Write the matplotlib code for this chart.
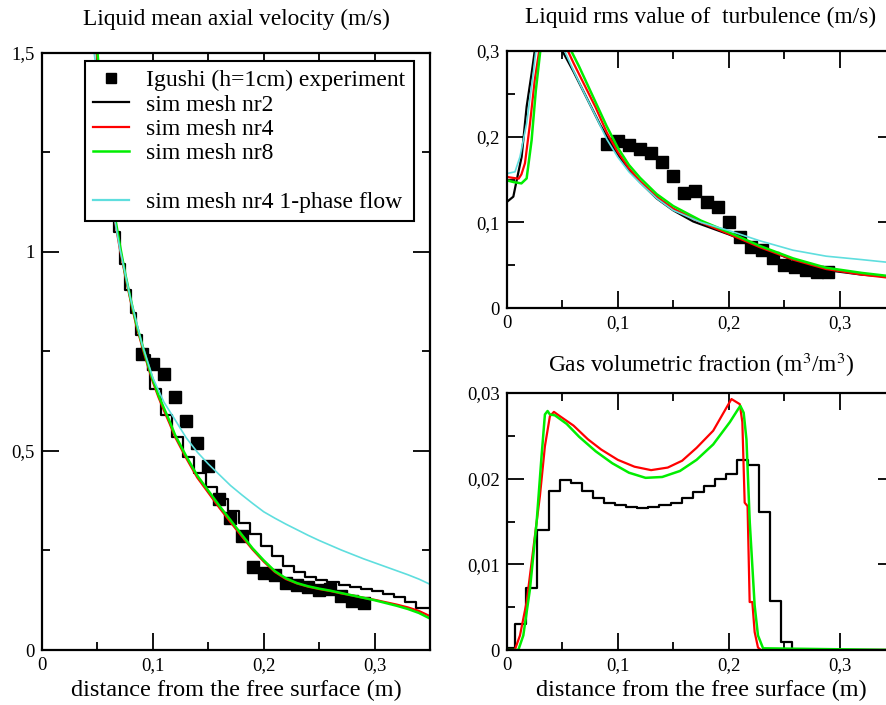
import matplotlib
matplotlib.use("Agg")
import matplotlib.pyplot as plt
from matplotlib.lines import Line2D
from matplotlib.ticker import MultipleLocator, FuncFormatter

plt.rcParams['font.family'] = ['Liberation Serif', 'DejaVu Serif']
plt.rcParams['mathtext.fontset'] = 'stix'

# experiment (Igushi, h=1cm)
exp_x = [0.09, 0.10, 0.11, 0.12, 0.13, 0.14, 0.15, 0.16, 0.17, 0.18, 0.19,
         0.20, 0.21, 0.22, 0.23, 0.24, 0.25, 0.26, 0.27, 0.28, 0.29]
vel_exp = [0.742, 0.717, 0.692, 0.636, 0.576, 0.519, 0.461, 0.379, 0.332, 0.286, 0.209,
           0.194, 0.188, 0.169, 0.163, 0.157, 0.150, 0.153, 0.136, 0.123, 0.119]
rms_exp = [0.192, 0.195, 0.190, 0.186, 0.181, 0.170, 0.154, 0.134, 0.137, 0.124, 0.118,
           0.100, 0.083, 0.071, 0.068, 0.058, 0.050, 0.048, 0.044, 0.042, 0.042]

# coarse mesh (nr2) cell centres
nr2_x = [0, 0.0025, 0.0125, 0.0225, 0.0325, 0.0425, 0.0525, 0.0625, 0.0725, 0.0825,
         0.0925, 0.1025, 0.1125, 0.1225, 0.1325, 0.1425, 0.1525, 0.1625, 0.1725,
         0.1825, 0.1925, 0.2025, 0.2125, 0.2225, 0.2325, 0.2425, 0.2525, 0.2625,
         0.2725, 0.2825, 0.2925, 0.3025, 0.3125, 0.3225, 0.3325, 0.3425, 0.35]

# mean axial velocity
vel_nr2_x = [0.0475, 0.0525, 0.0575, 0.0625, 0.0675, 0.0725, 0.0775, 0.0825,
             0.0875, 0.0925, 0.1025, 0.1125, 0.1225, 0.1325, 0.1425, 0.1525,
             0.1625, 0.1725, 0.1825, 0.1925, 0.2025, 0.2125, 0.2225, 0.2325,
             0.2425, 0.2525, 0.2625, 0.2725, 0.2825, 0.2925, 0.3025, 0.3125,
             0.3225, 0.3325, 0.3425, 0.35]
vel_nr2 = [1.6, 1.4, 1.26, 1.14, 1.05, 0.97, 0.905, 0.845, 0.79, 0.74, 0.655,
           0.59, 0.535, 0.485, 0.445, 0.41, 0.38, 0.35, 0.32, 0.29, 0.262, 0.236,
           0.212, 0.195, 0.184, 0.176, 0.17, 0.164, 0.158, 0.152, 0.147, 0.141,
           0.134, 0.12, 0.106, 0.106]
vel_x = [0.045, 0.05, 0.055, 0.06, 0.065, 0.07, 0.075, 0.08, 0.085, 0.09, 0.095,
         0.1, 0.105, 0.11, 0.115, 0.12, 0.13, 0.14, 0.15, 0.16, 0.17, 0.18, 0.19,
         0.2, 0.21, 0.22, 0.23, 0.24, 0.25, 0.26, 0.27, 0.28, 0.29, 0.3, 0.31,
         0.32, 0.33, 0.34, 0.35]
vel_nr4 = [1.62, 1.48, 1.32, 1.2, 1.09, 1.01, 0.94, 0.875, 0.815, 0.765, 0.717,
           0.673, 0.635, 0.601, 0.569, 0.535, 0.482, 0.433, 0.395, 0.357, 0.321,
           0.286, 0.252, 0.222, 0.196, 0.178, 0.167, 0.159, 0.153, 0.148, 0.142,
           0.137, 0.131, 0.126, 0.12, 0.114, 0.107, 0.098, 0.085]
vel_nr8 = [1.65, 1.5, 1.34, 1.21, 1.1, 1.02, 0.945, 0.88, 0.82, 0.77, 0.722,
           0.678, 0.64, 0.607, 0.575, 0.54, 0.487, 0.438, 0.40, 0.362, 0.326,
           0.29, 0.255, 0.225, 0.198, 0.18, 0.168, 0.16, 0.154, 0.149, 0.143,
           0.137, 0.131, 0.125, 0.118, 0.111, 0.103, 0.093, 0.079]
vel_1ph_x = [0.045, 0.047, 0.055, 0.06, 0.065, 0.07, 0.08, 0.09, 0.1, 0.11, 0.12,
             0.13, 0.14, 0.15, 0.16, 0.17, 0.18, 0.19, 0.2, 0.21, 0.22, 0.23, 0.24,
             0.25, 0.26, 0.27, 0.28, 0.29, 0.3, 0.31, 0.32, 0.33, 0.34, 0.35]
vel_1ph = [1.58, 1.5, 1.31, 1.19, 1.09, 1.01, 0.88, 0.77, 0.683, 0.622, 0.578,
           0.533, 0.497, 0.467, 0.44, 0.413, 0.39, 0.368, 0.347, 0.331, 0.316,
           0.302, 0.288, 0.275, 0.263, 0.251, 0.24, 0.229, 0.219, 0.209, 0.199,
           0.189, 0.178, 0.165]

# rms of turbulence
rms_nr2_x = [0, 0.0057, 0.0087, 0.0132, 0.0177, 0.0222, 0.025, 0.035, 0.045, 0.05,
             0.06, 0.072, 0.084, 0.096, 0.108, 0.12, 0.135, 0.15, 0.168, 0.2,
             0.228, 0.258, 0.288, 0.32, 0.35]
rms_nr2 = [0.124, 0.13, 0.149, 0.1765, 0.235, 0.274, 0.30, 0.36, 0.36, 0.30,
           0.276, 0.245, 0.214, 0.187, 0.164, 0.147, 0.128, 0.114, 0.101, 0.086,
           0.0715, 0.056, 0.0443, 0.039, 0.036]
rms_nr4_x = [0, 0.005, 0.0105, 0.013, 0.0162, 0.0207, 0.025, 0.029, 0.04, 0.055,
             0.06, 0.07, 0.08, 0.09, 0.1, 0.11, 0.12, 0.135, 0.15, 0.175, 0.2,
             0.228, 0.258, 0.288, 0.32, 0.35]
rms_nr4 = [0.153, 0.152, 0.151, 0.156, 0.169, 0.215, 0.266, 0.30, 0.38, 0.30,
           0.286, 0.26, 0.234, 0.205, 0.182, 0.163, 0.148, 0.13, 0.116, 0.1,
           0.0865, 0.071, 0.0565, 0.0455, 0.039, 0.0345]
rms_nr8_x = [0, 0.006, 0.013, 0.0177, 0.0222, 0.026, 0.030, 0.045, 0.058, 0.065,
             0.07, 0.08, 0.09, 0.1, 0.11, 0.12, 0.135, 0.15, 0.175, 0.2, 0.228,
             0.258, 0.288, 0.32, 0.35]
rms_nr8 = [0.149, 0.147, 0.1455, 0.1513, 0.196, 0.254, 0.30, 0.40, 0.30, 0.282,
           0.268, 0.24, 0.212, 0.187, 0.167, 0.152, 0.133, 0.119, 0.102, 0.0885,
           0.0725, 0.058, 0.047, 0.041, 0.0365]
rms_1ph_x = [0, 0.0072, 0.0117, 0.0177, 0.0237, 0.026, 0.039, 0.052, 0.06, 0.07,
             0.08, 0.09, 0.1, 0.11, 0.12, 0.135, 0.15, 0.175, 0.2, 0.228, 0.258,
             0.288, 0.32, 0.35]
rms_1ph = [0.157, 0.159, 0.1765, 0.2155, 0.274, 0.30, 0.37, 0.30, 0.277, 0.25,
           0.224, 0.197, 0.176, 0.159, 0.146, 0.128, 0.114, 0.1, 0.0905, 0.0785,
           0.0675, 0.0605, 0.0565, 0.0525]

# gas volumetric fraction
gas_nr2 = [0, 0.0002, 0.003, 0.0072, 0.014, 0.0186, 0.0198, 0.0195, 0.0186, 0.0178,
           0.0172, 0.0169, 0.0167, 0.0166, 0.0167, 0.0169, 0.0172, 0.0177, 0.0184,
           0.0192, 0.0200, 0.0205, 0.0222, 0.0216, 0.0161, 0.0057, 0.0009, 0, 0,
           0, 0, 0, 0, 0, 0, 0, 0]
gas_nr4_x = [0, 0.007, 0.0117, 0.0177, 0.0237, 0.0297, 0.0342, 0.0387, 0.0423,
             0.0477, 0.06, 0.073, 0.085, 0.1, 0.115, 0.13, 0.145, 0.158, 0.171,
             0.186, 0.198, 0.2025, 0.21, 0.2123, 0.2144, 0.217, 0.2189, 0.2213,
             0.2234, 0.2264, 0.229, 0.35]
gas_nr4 = [0, 0, 0.0017, 0.0056, 0.0118, 0.018, 0.0238, 0.0273, 0.0278, 0.0273,
           0.0262, 0.0246, 0.0234, 0.0222, 0.0214, 0.021, 0.0213, 0.0221, 0.0236,
           0.0256, 0.0283, 0.0293, 0.0287, 0.0266, 0.0172, 0.0168, 0.0056, 0.0056,
           0.0021, 0.0003, 0, 0]
gas_nr8_x = [0, 0.0102, 0.0147, 0.0207, 0.0267, 0.0312, 0.0342, 0.0366, 0.0387,
             0.0432, 0.0538, 0.065, 0.08, 0.095, 0.11, 0.125, 0.14, 0.156, 0.171,
             0.186, 0.201, 0.2084, 0.2105, 0.2135, 0.216, 0.219, 0.2234, 0.2264,
             0.231, 0.35]
gas_nr8 = [0, 0, 0.0017, 0.0071, 0.0149, 0.0227, 0.0275, 0.0279, 0.0275, 0.0274,
           0.0264, 0.0249, 0.0232, 0.0218, 0.0207, 0.0201, 0.0202, 0.0209, 0.0222,
           0.0240, 0.0266, 0.0281, 0.0285, 0.0277, 0.0246, 0.0149, 0.0052, 0.0017,
           0.0002, 0]

BLACK, RED, GREEN, CYAN = 'black', '#ff0000', '#00ee00', '#5fdede'
comma = FuncFormatter(lambda v, p: ('%g' % v).replace('.', ','))


def style(ax, ymaj, ymin, ytop):
    ax.set_xlim(0, 0.35)
    ax.set_ylim(0, ytop)
    ax.xaxis.set_major_locator(MultipleLocator(0.1))
    ax.xaxis.set_minor_locator(MultipleLocator(0.05))
    ax.yaxis.set_major_locator(MultipleLocator(ymaj))
    ax.yaxis.set_minor_locator(MultipleLocator(ymin))
    ax.xaxis.set_major_formatter(comma)
    ax.yaxis.set_major_formatter(comma)
    ax.tick_params(which='both', direction='in', top=True, right=True,
                   width=1.3, labelsize=13.5, pad=5)
    ax.tick_params(which='major', length=12)
    ax.tick_params(which='minor', length=6)
    for s in ax.spines.values():
        s.set_linewidth(1.6)


fig = plt.figure(figsize=(8.87, 7.05), dpi=100)
ax1 = fig.add_axes([0.0474, 0.078, 0.4374, 0.8475])
ax2 = fig.add_axes([0.5716, 0.5631, 0.4374, 0.3645])
ax3 = fig.add_axes([0.5716, 0.078, 0.4374, 0.3645])

# left: velocity
ax1.plot(exp_x, vel_exp, 's', color=BLACK, ms=8)
ax1.plot(vel_nr2_x, vel_nr2, color=BLACK, lw=1.6, drawstyle='steps-mid')
ax1.plot(vel_x, vel_nr4, color=RED, lw=1.6)
ax1.plot(vel_x, vel_nr8, color=GREEN, lw=1.8)
ax1.plot(vel_1ph_x, vel_1ph, color=CYAN, lw=1.2)
style(ax1, 0.5, 0.25, 1.5)
ax1.set_title('Liquid mean axial velocity (m/s)', fontsize=16.8, pad=20)
ax1.set_xlabel('distance from the free surface (m)', fontsize=17.5, labelpad=4)

handles = [
    Line2D([], [], ls='none', marker='s', color=BLACK, ms=7),
    Line2D([], [], color=BLACK, lw=1.6),
    Line2D([], [], color=RED, lw=1.6),
    Line2D([], [], color=GREEN, lw=1.8),
    Line2D([], [], color='none'),
    Line2D([], [], color=CYAN, lw=1.6),
]
labels = ['Igushi (h=1cm) experiment', 'sim mesh nr2', 'sim mesh nr4',
          'sim mesh nr8', ' ', 'sim mesh nr4 1-phase flow']
leg = ax1.legend(handles, labels, loc='upper left', bbox_to_anchor=(0.111, 0.985),
                 borderaxespad=0, fontsize=17, fancybox=False, framealpha=1,
                 edgecolor=BLACK, handlelength=1.5, handletextpad=0.75,
                 labelspacing=0.12, borderpad=0.35)
leg.get_frame().set_linewidth(1.5)

# top right: rms of turbulence
ax2.plot(exp_x, rms_exp, 's', color=BLACK, ms=8)
ax2.plot(rms_nr2_x, rms_nr2, color=BLACK, lw=1.6)
ax2.plot(rms_nr4_x, rms_nr4, color=RED, lw=1.6)
ax2.plot(rms_nr8_x, rms_nr8, color=GREEN, lw=1.8)
ax2.plot(rms_1ph_x, rms_1ph, color=CYAN, lw=1.2)
style(ax2, 0.1, 0.05, 0.3)
ax2.set_title('Liquid rms value of  turbulence (m/s)', fontsize=16.8, pad=20)

# bottom right: gas fraction
ax3.plot(nr2_x, gas_nr2, color=BLACK, lw=1.6, drawstyle='steps-mid')
ax3.plot(gas_nr4_x, gas_nr4, color=RED, lw=1.6)
ax3.plot(gas_nr8_x, gas_nr8, color=GREEN, lw=1.8)
style(ax3, 0.01, 0.005, 0.03)
ax3.set_title('Gas volumetric fraction (m$^3$/m$^3$)', fontsize=16.8, pad=15)
ax3.set_xlabel('distance from the free surface (m)', fontsize=17.5, labelpad=4)

fig.savefig('out.png', dpi=100)
